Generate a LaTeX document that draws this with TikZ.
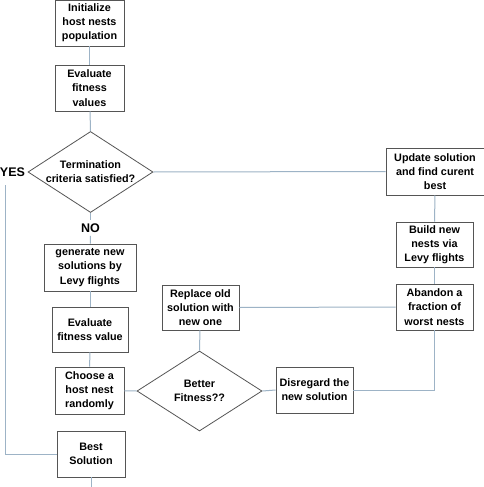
\documentclass[tikz,border=0pt]{standalone}
\usepackage{fontspec}
\setmainfont{Liberation Sans}
\usetikzlibrary{shapes.geometric}
\definecolor{lnk}{HTML}{9DB3C6}
\definecolor{bdr}{HTML}{555555}
\begin{document}
\begin{tikzpicture}[x=1pt,y=-1pt,
  box/.style={draw=bdr,line width=0.8pt,fill=white,inner sep=0pt,align=center,font=\fontsize{10.8}{14.2}\selectfont\bfseries},
  dia/.style={draw=bdr,line width=0.8pt,diamond,inner sep=0pt},
  txt/.style={align=center,font=\fontsize{10.8}{14.2}\selectfont\bfseries},
  lab/.style={font=\fontsize{12.5}{14}\selectfont\bfseries},
  link/.style={draw=lnk,line width=1pt}]
\useasboundingbox (0,0) rectangle (484,487);
\fill[white] (0,0) rectangle (484,487);
% nodes
\node[box,minimum width=69pt,minimum height=46pt] (init) at (89.5,23) {Initialize\\host nests\\population};
\node[box,minimum width=69pt,minimum height=46pt] (eval1) at (89.5,88) {Evaluate\\fitness\\values};
\node[dia,minimum width=125pt,minimum height=81pt] (term) at (90.5,172) {};
\node[txt] (termt) at (term) {Termination\\criteria satisfied?};
\node[box,minimum width=98pt,minimum height=47pt] (upd) at (435,171.5) {Update solution\\and find curent\\best};
\node[box,minimum width=77pt,minimum height=45pt] (build) at (434.5,244.5) {Build new\\nests via\\Levy flights};
\node[box,minimum width=77pt,minimum height=46pt] (aband) at (434.5,307) {Abandon a\\fraction of\\worst nests};
\node[box,minimum width=77pt,minimum height=45pt] (repl) at (200.5,307.5) {Replace old\\solution with\\new one};
\node[box,minimum width=92pt,minimum height=47pt] (gen) at (90,267.5) {generate new\\solutions by\\Levy flights};
\node[box,minimum width=76pt,minimum height=45pt] (eval2) at (90,329.5) {Evaluate\\fitness value};
\node[box,minimum width=69pt,minimum height=47pt] (choose) at (89.5,390.5) {Choose a\\host nest\\randomly};
\node[dia,minimum width=125pt,minimum height=80pt] (better) at (199.5,391) {};
\node[txt] (bettert) at (better) {Better\\Fitness??};
\node[box,minimum width=77pt,minimum height=46pt] (disr) at (314.5,390) {Disregard the\\new solution};
\node[box,minimum width=68pt,minimum height=46pt] (best) at (91,454) {Best\\Solution};
\node[lab] (yes) at (12.5,172) {YES};
\node[lab] (no) at (90.5,228) {NO};
\coordinate (yestop) at (5,185);
\coordinate (yescorner) at (5,454);
\coordinate (discorner) at (434.5,390);
\coordinate (bestend) at (91,487);
% links
\draw[link] (init) -- (eval1);
\draw[link] (eval1) -- (term.north);
\draw[link] (term.south) -- (no);
\draw[link] (no) -- (gen);
\draw[link] (gen) -- (eval2);
\draw[link] (eval2) -- (choose);
\draw[link] (choose) -- (better.west);
\draw[link] (better.north) -- (repl);
\draw[link] (repl.east) -- (aband.west);
\draw[link] (aband) -- (build);
\draw[link] (build) -- (upd);
\draw[link] (upd.west) -- (term.east);
\draw[link] (better.east) -- (disr.west);
\draw[link] (disr.east) -- (discorner) -- (aband.south);
\draw[link] (yestop) -- (yescorner) -- (best.west);
\draw[link] (best.south) -- (bestend);
\end{tikzpicture}
\end{document}
